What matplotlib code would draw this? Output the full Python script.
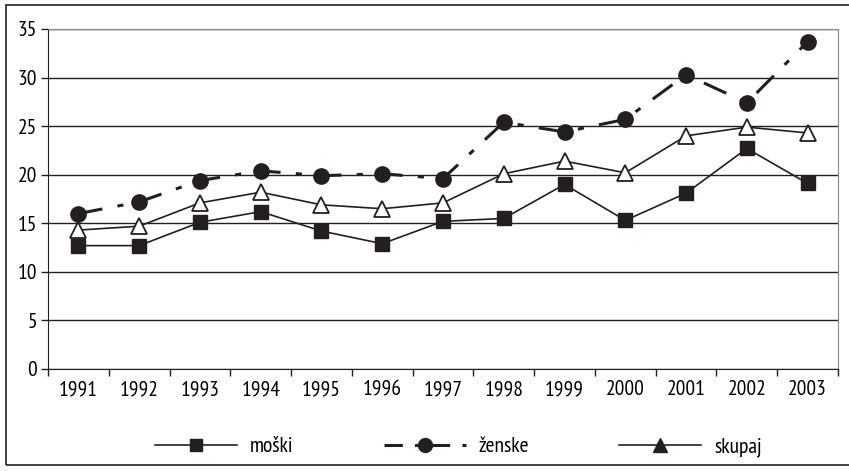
import numpy as np
import matplotlib
matplotlib.use("Agg")
from matplotlib import pyplot as plt
from matplotlib.lines import Line2D
from matplotlib.patches import Rectangle

years = ['1991', '1992', '1993', '1994', '1995', '1996', '1997',
         '1998', '1999', '2000', '2001', '2002', '2003']
moski = [12.7, 12.7, 15.1, 16.2, 14.2, 12.9, 15.2, 15.5, 19.0, 15.3, 18.1, 22.7, 19.1]
zenske = [16.0, 17.2, 19.4, 20.4, 19.9, 20.1, 19.6, 25.4, 24.4, 25.7, 30.3, 27.4, 33.7]
skupaj = [14.3, 14.7, 17.1, 18.2, 16.9, 16.5, 17.1, 20.1, 21.4, 20.2, 24.0, 24.9, 24.3]
yticks = [0, 5, 10, 15, 20, 25, 30, 35]

plt.rcParams['font.family'] = ['PT Sans Narrow', 'DejaVu Sans']
ink = '#231f20'
fs = 15.5

fig = plt.figure(figsize=(8.49, 4.71), dpi=100)
ax = fig.add_axes([48 / 849, 1 - 369 / 471, 790 / 849, 340 / 471])

x = np.arange(len(years))
ax.plot(x, moski, color=ink, lw=1.2, marker='s', ms=10, zorder=3)
ax.plot(x, zenske, color=ink, lw=2.2, marker='o', ms=11,
        dashes=(8, 5, 2, 5), zorder=4)
ax.plot(x, skupaj, color=ink, lw=1.2, marker='^', ms=12,
        markerfacecolor='white', markeredgewidth=1.3, zorder=3)

ax.set_xlim(-0.5, len(years) - 0.5)
ax.set_ylim(0, 35)
ax.set_yticks(yticks)
ax.set_xticks(x)
ax.set_xticklabels(years)
ax.set_xticks(np.arange(len(years) + 1) - 0.5, minor=True)
ax.tick_params(axis='x', which='major', length=0, pad=8, labelsize=fs)
ax.tick_params(axis='x', which='minor', length=5, width=1, color=ink)
ax.tick_params(axis='y', length=5, width=1, color=ink, labelsize=fs, pad=3)
ax.grid(axis='y', color=ink, lw=1)
ax.set_axisbelow(True)

for side in ['top', 'right']:
    ax.spines[side].set_color('#888888')
for side in ['left', 'bottom']:
    ax.spines[side].set_color(ink)

handles = [
    Line2D([], [], color=ink, lw=1.2, marker='s', ms=9),
    Line2D([], [], color=ink, lw=2.2, marker='o', ms=10, dashes=(6, 4, 1.5, 4)),
    Line2D([], [], color=ink, lw=1.2, marker='^', ms=10),
]
fig.legend(handles, ['moški', 'ženske', 'skupaj'], loc='center',
           bbox_to_anchor=(0.54, 1 - 447 / 471), ncol=3, frameon=False,
           fontsize=fs, handlelength=3.8, columnspacing=4.2, handletextpad=0.6)

fig.patches.append(Rectangle((6 / 849, 1 - 465 / 471), 850 / 849, 460 / 471,
                             transform=fig.transFigure, fill=False,
                             edgecolor=ink, lw=1.2))

fig.savefig('out.png', dpi=100)
